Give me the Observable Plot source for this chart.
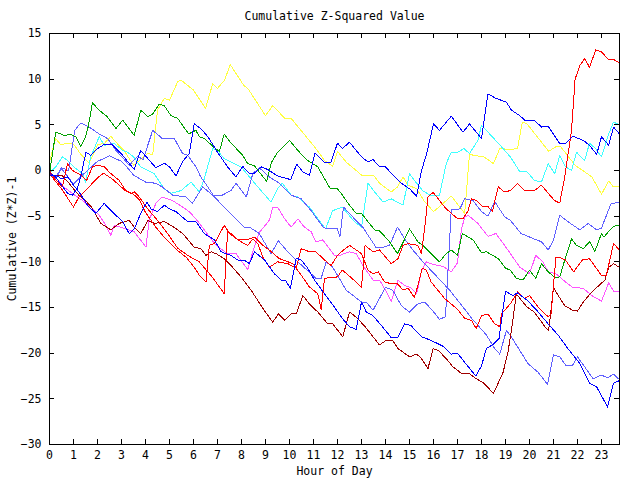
<!DOCTYPE html>
<html>
<head>
<meta charset="utf-8">
<script src="https://cdn.jsdelivr.net/npm/d3@7"></script>
<script src="https://cdn.jsdelivr.net/npm/@observablehq/plot@0.6"></script>
<style>
  html, body { margin: 0; padding: 0; background: white; }
  #chart svg { display: block; }
</style>
</head>
<body>
<div id="chart"></div>
<script>
const titleText = "Cumulative Z-Squared Value";
const xLabel = "Hour of Day";
const yLabel = "Cumulative (Z*Z)-1";
const xTicks = [0,1,2,3,4,5,6,7,8,9,10,11,12,13,14,15,16,17,18,19,20,21,22,23];
const yTicks = [-30,-25,-20,-15,-10,-5,0,5,10,15];

const yellow = [[0,1.0],[0.26,3.5],[0.47,2.8],[0.75,3.0],[1.0,2.9],[1.3,1.8],[1.65,0.8],[2.0,2.8],[2.3,3.0],[2.56,3.75],[2.77,3.1],[3.1,2.2],[3.5,0.6],[3.8,1.2],[4.1,1.9],[4.3,1.7],[4.5,6.6],[4.78,7.9],[5.0,7.7],[5.34,9.7],[5.48,9.9],[6.0,8.8],[6.5,6.8],[6.8,9.5],[7.0,9.0],[7.3,9.9],[7.53,11.6],[8.1,9.3],[8.26,9.0],[9.0,6.0],[9.3,7.1],[9.83,5.65],[10.07,5.7],[10.35,4.8],[11.04,2.6],[11.46,1.1],[11.8,0.46],[12.0,2.1],[12.36,0.93],[13.0,-0.5],[13.5,-0.5],[13.75,-1.4],[14.24,-2.35],[14.5,-1.8],[14.73,-0.7],[14.94,-1.6],[15.3,-2.0],[15.6,-3.3],[16.0,-4.5],[16.4,-3.6],[16.74,-2.8],[17.3,-4.7],[17.5,1.85],[17.66,1.66],[18.1,1.5],[18.5,0.75],[18.76,2.4],[19.2,2.3],[19.5,2.4],[19.7,5.3],[19.9,5.1],[20.8,2.1],[21.1,2.6],[21.3,2.6],[21.9,0.57],[22.6,-0.7],[23.0,-2.6],[23.3,-1.15],[23.5,-1.8],[23.75,-1.8]];

const cyan = [[0,-0.3],[0.26,0.4],[0.54,1.5],[0.75,1.1],[1.1,0.2],[1.38,-0.35],[1.5,-1.26],[1.72,1.5],[2.07,3.7],[2.28,2.76],[2.7,2.95],[3.05,2.2],[3.25,2.0],[3.5,1.5],[3.8,0.4],[4.36,-0.35],[4.78,-2.0],[5.06,-2.5],[5.48,-2.2],[5.9,-1.26],[6.24,-2.35],[6.45,-0.9],[6.8,2.4],[7.0,2.2],[7.28,1.3],[7.98,0.4],[8.68,-1.8],[9.23,-3.45],[9.5,-2.0],[9.7,-1.4],[10.07,-2.7],[10.35,-2.9],[10.83,-4.0],[11.5,-6.4],[11.8,-4.4],[12.2,-4.0],[12.7,-5.6],[13.0,-6.2],[13.27,-1.4],[13.5,-2.2],[13.9,-3.45],[14.24,-3.1],[14.73,-3.8],[15.0,-0.35],[15.3,-1.4],[15.55,-2.2],[15.84,-2.7],[16.25,-2.7],[16.53,0.75],[16.74,2.0],[17.0,2.0],[17.27,2.4],[17.5,1.85],[17.85,3.3],[18.0,4.95],[18.27,4.2],[18.83,2.6],[19.2,1.5],[19.6,-0.15],[19.9,-0.15],[20.2,-1.07],[20.5,-1.26],[20.78,0.75],[21.05,-0.35],[21.26,1.66],[21.5,0.4],[21.75,0],[21.96,2.0],[22.3,1.1],[22.5,3.0],[22.75,2.4],[23.0,1.5],[23.3,4.0],[23.5,5.3],[23.75,5.0]];

const green = [[0,-0.3],[0.26,4.2],[0.47,4.0],[0.65,3.8],[0.82,4.0],[1.1,3.7],[1.3,2.65],[1.5,3.7],[1.61,4.76],[1.79,7.4],[2.07,6.6],[2.4,5.9],[2.77,4.6],[3.05,5.5],[3.53,3.85],[3.8,6.6],[4.1,5.9],[4.3,6.2],[4.57,7.25],[4.78,7.1],[5.06,6.0],[5.34,5.7],[5.8,4.0],[6.1,4.4],[6.24,3.7],[6.45,3.5],[6.87,2.5],[7.08,2.1],[7.28,4.0],[7.53,3.1],[8.05,1.66],[8.26,0.75],[8.54,0.5],[9.05,-1.2],[9.25,0.9],[9.5,2.0],[10.0,3.3],[10.35,2.2],[10.7,1.2],[11.18,0.4],[11.7,-2.0],[12.0,-2.0],[12.15,-2.5],[12.5,-3.8],[12.78,-4.7],[13.0,-4.7],[13.27,-5.6],[13.55,-6.5],[13.75,-6.6],[14.17,-7.8],[14.5,-9.1],[14.8,-7.5],[15.0,-6.4],[15.35,-7.8],[15.56,-8.2],[15.9,-9.1],[16.25,-10.0],[16.53,-9.1],[16.74,-8.7],[17.0,-9.3],[17.2,-6.9],[17.65,-7.6],[18.0,-9.0],[18.2,-8.9],[18.7,-9.65],[19.0,-10.7],[19.2,-10.9],[19.45,-11.8],[19.73,-12.0],[20.0,-10.9],[20.26,-11.8],[20.5,-10.2],[20.78,-11.1],[21.05,-11.7],[21.26,-11.65],[21.47,-9.8],[21.75,-7.5],[21.96,-8.2],[22.24,-8.55],[22.51,-7.8],[22.72,-8.9],[23.0,-6.9],[23.1,-7.3],[23.35,-6.5],[23.5,-6.1],[23.75,-6.0]];

const blueUpper = [[0,-0.3],[0.25,-0.7],[0.5,-1.6],[0.75,-2.5],[0.96,-2.7],[1.17,-1.9],[1.3,-0.7],[1.52,2.0],[1.72,1.66],[2.0,2.4],[2.28,2.85],[2.6,2.85],[2.97,1.9],[3.25,1.0],[3.53,0.1],[3.8,2.2],[4.0,1.6],[4.43,0.3],[4.78,0.8],[5.0,0.4],[5.27,-0.6],[5.55,1.0],[5.82,1.85],[6.03,5.1],[6.3,4.6],[6.6,3.7],[7.0,2.0],[7.42,0.4],[7.77,-0.7],[8.05,0.45],[8.33,-0.3],[8.54,-0.3],[8.82,0.4],[9.1,0.1],[9.5,-0.6],[10.05,-1.0],[10.3,0.7],[10.56,-0.15],[10.83,-0.5],[11.06,1.9],[11.25,1.4],[11.45,0.93],[11.73,0.93],[12.0,3.0],[12.2,2.4],[12.5,3.1],[13.0,1.5],[13.27,0.93],[13.48,1.2],[13.75,0.4],[14.0,0.4],[14.38,-0.7],[14.66,-1.4],[15.0,-2.0],[15.3,-2.8],[15.5,0],[15.7,1.7],[16.0,5.1],[16.25,4.4],[16.74,5.94],[17.23,4.2],[17.5,5.1],[18.0,3.5],[18.27,8.4],[18.6,7.9],[19.03,7.5],[19.25,6.6],[19.6,6.0],[19.8,5.5],[20.2,5.5],[20.5,4.76],[20.78,4.84],[21.26,2.95],[21.5,2.95],[21.8,3.75],[22.24,3.3],[22.5,2.76],[22.8,1.77],[23.0,3.7],[23.3,2.76],[23.5,4.76],[23.75,4.0]];

const blueLower = [[0,-0.5],[0.25,-0.5],[0.5,-0.9],[0.75,-0.7],[1.0,-1.6],[1.3,-2.6],[1.58,-3.8],[1.93,-4.7],[2.28,-3.6],[2.6,-4.5],[3.05,-5.6],[3.32,-6.9],[3.53,-6.4],[3.8,-4.7],[4.06,-3.45],[4.23,-4.2],[4.5,-4.5],[4.78,-3.8],[5.0,-4.2],[5.27,-4.5],[5.76,-5.6],[6.1,-5.6],[6.45,-6.9],[6.87,-7.6],[7.15,-8.9],[7.56,-9.3],[7.84,-9.8],[8.1,-9.8],[8.33,-10.2],[8.54,-8.9],[8.96,-9.8],[9.37,-11.3],[9.65,-12.0],[9.85,-12.1],[10.04,-12.9],[10.28,-9.6],[10.49,-9.8],[10.76,-10.7],[11.04,-12.0],[11.46,-13.5],[11.87,-14.95],[12.2,-16.2],[12.5,-17.1],[12.78,-17.4],[13.0,-14.4],[13.2,-15.5],[13.48,-15.9],[13.82,-16.95],[14.24,-18.3],[14.5,-18.3],[14.8,-16.8],[15.05,-16.95],[15.5,-18.2],[15.9,-18.6],[16.4,-19.25],[16.74,-20.1],[17.0,-20.0],[17.3,-21.0],[17.76,-22.5],[18.0,-21.4],[18.2,-19.5],[18.5,-19.0],[18.73,-18.4],[19.0,-13.2],[19.3,-13.7],[19.5,-13.4],[19.9,-14.2],[20.3,-15.3],[20.78,-16.8],[21.2,-18.05],[21.6,-19.5],[22.1,-21.15],[22.5,-23.3],[22.8,-23.7],[23.07,-25.0],[23.25,-25.9],[23.5,-23.3],[23.75,-23.0]];

const slateA = [[0,-0.3],[0.25,-0.8],[0.5,0.3],[0.8,0],[1.05,4.4],[1.3,5.2],[1.65,4.76],[2.07,4.0],[2.42,3.5],[2.77,2.2],[3.05,1.4],[3.32,0.57],[3.67,1.55],[3.9,1.2],[4.3,4.4],[4.7,3.5],[5.2,3.5],[5.55,1.85],[5.76,1.66],[6.1,0.4],[6.3,-0.7],[6.6,-1.8],[6.87,-2.9],[7.28,-4.0],[7.7,-5.1],[8.12,-6.2],[8.33,-6.2],[8.74,-6.9],[9.23,-9.1],[9.54,-7.7],[9.86,-8.7],[10.35,-10.0],[11.1,-11.8],[11.32,-11.8],[11.53,-10.0],[11.8,-10.6],[12.05,-11.7],[12.36,-13.1],[13.0,-14.4],[13.2,-14.4],[13.48,-15.3],[14.0,-12.8],[14.3,-13.1],[14.66,-14.8],[15.0,-15.5],[15.35,-14.6],[15.63,-14.4],[15.95,-15.3],[16.25,-16.3],[16.5,-16.0],[16.74,-4.25],[16.95,-4.3],[17.1,-4.2],[17.3,-3.1],[17.65,-3.3],[18.0,-4.5],[18.27,-5.0],[18.55,-3.4],[18.97,-5.1],[19.2,-5.45],[19.65,-6.9],[20.2,-7.5],[20.5,-7.8],[20.78,-8.7],[21.0,-7.6],[21.26,-4.9],[21.6,-5.6],[22.1,-6.5],[22.45,-5.8],[22.8,-6.5],[23.0,-6.3],[23.4,-3.6],[23.75,-3.5]];

const slateB = [[0,-0.3],[0.25,-0.9],[0.5,0.2],[0.75,-0.6],[1.0,-1.5],[1.25,-0.8],[1.5,-0.2],[1.75,0.4],[2.0,1.0],[2.5,1.6],[3.0,1.0],[3.25,0.3],[3.5,-0.5],[4.0,-1.26],[4.43,-1.4],[4.7,-1.8],[5.13,-2.7],[5.7,-2.9],[5.95,-3.6],[6.38,-1.8],[6.8,-2.7],[7.2,-2.7],[7.56,-2.2],[7.77,-1.4],[8.2,-2.9],[8.47,-0.35],[8.74,0.3],[9.16,-0.7],[9.58,-1.4],[10.07,-2.7],[10.49,-3.1],[10.9,-4.4],[11.4,-6.2],[11.6,-6.4],[12.0,-6.4],[12.1,-7.3],[12.25,-4.0],[12.6,-5.0],[13.05,-6.2],[13.4,-7.6],[13.6,-8.4],[13.9,-8.4],[14.17,-8.2],[14.5,-6.2],[14.8,-7.5],[15.14,-8.7],[15.56,-10.0],[16.1,-11.5],[16.67,-13.1],[17.23,-14.95],[17.65,-16.4],[17.8,-16.8],[18.2,-18.0],[18.55,-19.5],[18.76,-20.1],[19.04,-17.5],[19.2,-18.05],[19.5,-19.3],[19.94,-21.15],[20.36,-22.1],[20.75,-23.4],[21.0,-20.2],[21.26,-20.4],[21.5,-21.3],[21.8,-21.3],[22.0,-20.4],[22.3,-21.5],[22.65,-22.8],[23.0,-22.4],[23.25,-22.7],[23.5,-22.3],[23.75,-22.9]];

const magenta = [[0,-0.3],[0.3,-0.9],[0.6,-1.8],[1.0,-2.6],[1.38,-3.3],[1.72,-4.0],[2.07,-4.9],[2.3,-5.8],[2.56,-7.1],[2.7,-6.0],[3.18,-6.4],[3.53,-6.7],[4.02,-8.4],[4.15,-5.45],[4.43,-3.6],[4.7,-2.9],[5.13,-3.3],[5.55,-4.0],[5.82,-4.5],[6.1,-5.3],[6.45,-6.5],[6.73,-7.5],[6.94,-8.2],[7.42,-9.1],[7.77,-9.1],[8.26,-10.85],[8.47,-8.9],[8.74,-6.8],[9.16,-5.45],[9.3,-4.0],[9.5,-4.0],[9.8,-5.3],[10.07,-6.2],[10.35,-5.3],[10.62,-6.2],[10.9,-6.7],[11.1,-7.8],[11.39,-7.6],[11.87,-9.3],[12.08,-9.3],[12.5,-8.9],[12.78,-9.1],[13.06,-10.4],[13.48,-12.0],[13.75,-12.0],[14.0,-13.1],[14.24,-14.3],[14.52,-12.0],[14.8,-12.6],[15.05,-12.8],[15.3,-13.5],[15.5,-11.0],[15.7,-10.0],[16.0,-10.3],[16.4,-10.5],[16.74,-11.1],[17.0,-10.1],[17.16,-6.5],[17.3,-5.1],[17.44,-4.9],[17.85,-5.8],[18.27,-7.2],[18.6,-6.9],[19.1,-8.7],[19.6,-10.6],[20.0,-11.3],[20.26,-9.3],[20.56,-10.0],[20.78,-11.1],[21.1,-11.3],[21.5,-12.2],[21.8,-12.8],[22.24,-12.9],[22.6,-13.7],[23.0,-14.3],[23.3,-12.3],[23.5,-13.2],[23.75,-13.2]];

const redUpper = [[0,0],[0.25,-1.0],[0.54,-1.8],[0.75,0.75],[0.96,0.0],[1.3,-0.5],[1.55,-1.07],[1.79,0.4],[2.0,0.57],[2.28,0.4],[2.56,-0.35],[2.9,-1.07],[3.18,-2.2],[3.4,-2.5],[3.55,-2.35],[3.74,-2.9],[4.09,-4.2],[4.5,-5.45],[4.92,-6.9],[5.34,-8.5],[5.76,-9.3],[6.24,-10.0],[6.73,-11.5],[7.08,-12.75],[7.28,-13.5],[7.42,-6.7],[7.56,-6.9],[7.84,-7.6],[8.2,-7.6],[8.54,-7.3],[8.9,-8.2],[9.2,-8.8],[9.58,-9.65],[10.14,-10.2],[10.5,-11.5],[10.83,-12.75],[11.18,-13.5],[11.32,-15.2],[11.46,-11.8],[12.0,-11.65],[12.2,-10.9],[12.6,-11.8],[13.0,-12.8],[13.15,-8.2],[13.48,-8.9],[13.75,-8.7],[14.24,-10.2],[14.52,-9.65],[14.73,-8.2],[14.94,-8.0],[15.35,-8.2],[15.5,-9.1],[15.67,-5.45],[15.77,-2.9],[15.98,-2.4],[16.2,-3.1],[16.46,-4.0],[16.74,-4.7],[17.02,-5.3],[17.23,-5.3],[17.44,-4.4],[17.58,-3.1],[17.8,-3.3],[18.06,-4.0],[18.25,-3.9],[18.45,-4.5],[18.7,-1.8],[18.95,-2.35],[19.2,-2.2],[19.5,-1.4],[19.8,-2.2],[20.2,-2.2],[20.5,-1.6],[20.78,-2.5],[21.05,-3.3],[21.26,-3.56],[21.47,-0.7],[21.75,4.4],[21.9,10.0],[22.1,11.5],[22.3,12.25],[22.5,11.3],[22.76,13.2],[23.0,13.0],[23.3,12.1],[23.5,12.15],[23.75,11.8]];

const redLower = [[0,-0.3],[0.25,-1.2],[0.5,-2.0],[0.75,-3.0],[1.0,-4.0],[1.25,-2.8],[1.5,-2.2],[1.75,-1.5],[2.0,-0.8],[2.25,-0.3],[2.6,-0.9],[2.9,-1.6],[3.2,-2.3],[3.5,-2.6],[3.74,-3.2],[4.0,-4.6],[4.43,-6.2],[4.65,-6.9],[4.85,-7.5],[5.13,-8.2],[5.4,-8.9],[5.7,-9.5],[6.03,-10.6],[6.25,-11.5],[6.52,-12.2],[6.66,-8.2],[6.87,-8.0],[7.28,-6.0],[7.5,-6.9],[7.7,-7.3],[7.98,-7.8],[8.26,-8.2],[8.47,-7.5],[8.68,-8.0],[8.89,-9.5],[9.16,-10.6],[9.5,-10.0],[9.93,-10.2],[10.28,-10.7],[10.49,-8.55],[10.83,-8.9],[11.1,-8.9],[11.46,-9.8],[11.73,-10.4],[12.0,-9.3],[12.25,-8.7],[12.5,-8.2],[12.78,-8.7],[13.0,-9.1],[13.27,-10.9],[13.48,-11.3],[13.7,-11.1],[13.96,-12.2],[14.24,-12.4],[14.5,-12.4],[14.73,-13.1],[14.95,-12.9],[15.2,-13.9],[15.35,-12.6],[15.53,-10.7],[15.7,-10.9],[15.9,-12.2],[16.46,-14.0],[17.0,-15.2],[17.3,-16.2],[17.58,-16.4],[17.78,-17.3],[18.0,-15.9],[18.27,-15.7],[18.55,-16.8],[18.76,-17.1],[18.83,-15.7],[19.2,-14.6],[19.5,-13.3],[19.8,-14.0],[20.0,-13.7],[20.36,-14.95],[20.63,-15.7],[20.78,-16.0],[20.9,-15.7],[21.1,-9.5],[21.26,-9.5],[21.5,-9.8],[21.84,-11.1],[22.2,-9.8],[22.5,-9.65],[23.0,-11.5],[23.2,-11.5],[23.5,-8.0],[23.75,-8.7]];

const darkRed = [[0,-0.3],[0.25,-0.6],[0.5,-0.5],[0.75,-1.2],[1.0,-2.0],[1.25,-2.8],[1.5,-3.3],[1.75,-4.0],[2.14,-5.8],[2.56,-6.5],[2.9,-5.8],[3.32,-5.45],[3.53,-6.2],[3.8,-6.9],[4.1,-5.5],[4.4,-5.8],[4.78,-5.6],[5.06,-6.0],[5.34,-6.5],[5.55,-6.9],[6.03,-8.4],[6.3,-8.55],[6.52,-9.3],[6.73,-8.9],[6.94,-9.1],[7.28,-9.65],[7.56,-10.4],[7.98,-11.65],[8.4,-13.1],[8.89,-15.1],[9.3,-16.6],[9.54,-15.7],[9.8,-16.4],[10.07,-15.7],[10.28,-15.7],[10.56,-13.7],[10.83,-14.6],[11.18,-15.5],[11.6,-16.8],[11.8,-16.8],[12.22,-18.2],[12.5,-15.5],[12.75,-16.0],[13.12,-17.0],[13.48,-18.2],[13.75,-19.1],[14.03,-18.6],[14.3,-18.6],[14.52,-19.5],[15.0,-20.4],[15.3,-20.1],[15.5,-20.6],[15.77,-21.7],[15.98,-19.5],[16.2,-19.7],[16.53,-20.6],[16.81,-21.5],[17.16,-22.2],[17.5,-22.25],[17.78,-22.8],[18.06,-23.2],[18.5,-24.4],[18.9,-22.1],[19.1,-19.9],[19.25,-17.5],[19.45,-13.5],[19.66,-14.2],[19.9,-14.95],[20.2,-15.5],[20.7,-17.3],[20.8,-17.5],[21.0,-12.8],[21.2,-13.7],[21.47,-14.8],[21.8,-15.3],[22.0,-15.4],[22.24,-14.4],[22.6,-13.3],[22.93,-12.5],[23.14,-12.0],[23.3,-10.6],[23.5,-10.2],[23.75,-10.6]];

const seriesNames = ["yellow","cyan","magenta","slateA","slateB","green","darkRed","redLower","redUpper","blueLower","blueUpper"];
const seriesColors = ["#ffff40","#40ffff","#ff55ff","#6060ff","#6060ff","#00a000","#a00000","#ff0000","#ff0000","#0000ff","#0000ff"];
const seriesData = [yellow, cyan, magenta, slateA, slateB, green, darkRed, redLower, redUpper, blueLower, blueUpper];

const rows = seriesData.flatMap((pts, i) => pts.map(([h, v]) => ({h, v, s: seriesNames[i]})));

const W = 640, H = 480, mL = 49, mR = 21, mT = 33, mB = 36, tickLen = 5;
const frameW = W - mL - mR, frameH = H - mT - mB;

const chart = Plot.plot({
  width: W,
  height: H,
  marginLeft: mL,
  marginRight: mR,
  marginTop: mT,
  marginBottom: mB,
  style: {fontFamily: "'DejaVu Sans Mono', monospace", fontSize: "11.5px", background: "white", color: "black"},
  x: {domain: [0, 23.75], label: null},
  y: {domain: [-30, 15], label: null},
  color: {domain: seriesNames, range: seriesColors},
  marks: [
    Plot.line(rows, {x: "h", y: "v", z: "s", stroke: "s", strokeWidth: 1, shapeRendering: "crispEdges"}),
    Plot.tickX(xTicks, {x: d => d, stroke: "black", insetTop: frameH - tickLen, shapeRendering: "crispEdges"}),
    Plot.tickX(xTicks, {x: d => d, stroke: "black", insetBottom: frameH - tickLen, shapeRendering: "crispEdges"}),
    Plot.tickY(yTicks, {y: d => d, stroke: "black", insetRight: frameW - tickLen, shapeRendering: "crispEdges"}),
    Plot.tickY(yTicks, {y: d => d, stroke: "black", insetLeft: frameW - tickLen, shapeRendering: "crispEdges"}),
    Plot.frame({stroke: "black", strokeWidth: 1, shapeRendering: "crispEdges"}),
    Plot.axisX(xTicks, {anchor: "bottom", tickSize: 0, tickPadding: 6, label: null}),
    Plot.axisY(yTicks, {anchor: "left", tickSize: 0, tickPadding: 8, label: null}),
    Plot.text([titleText], {text: d => d, frameAnchor: "top", dy: -17, textAnchor: "middle", lineAnchor: "middle"}),
    Plot.text([xLabel], {text: d => d, frameAnchor: "bottom", dy: 27, textAnchor: "middle", lineAnchor: "middle"}),
    Plot.text([yLabel], {text: d => d, frameAnchor: "left", dx: -37, rotate: -90, textAnchor: "middle", lineAnchor: "middle"})
  ]
});
document.getElementById("chart").appendChild(chart);
</script>
</body>
</html>
